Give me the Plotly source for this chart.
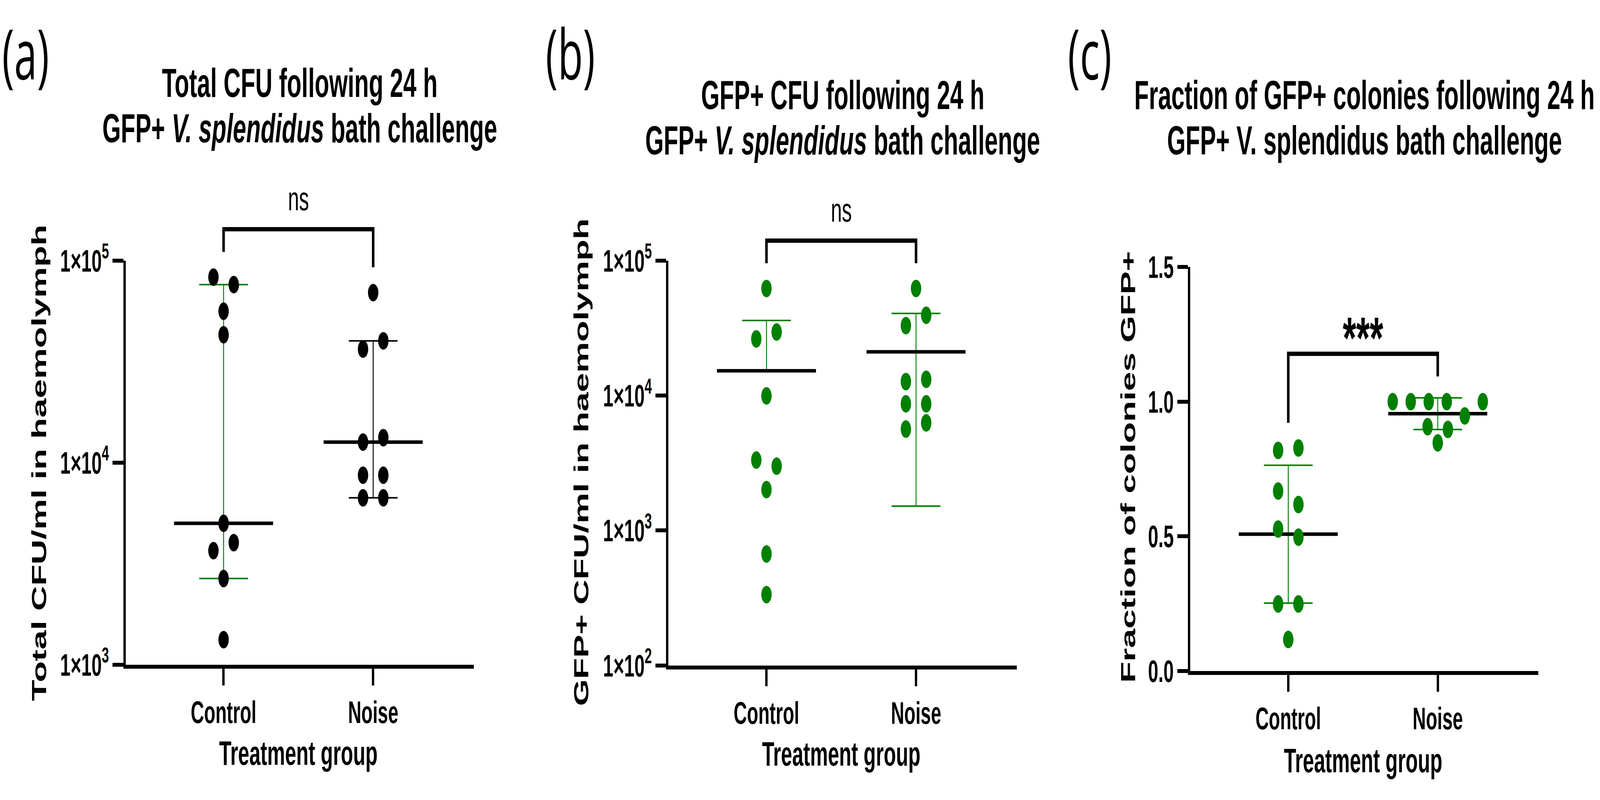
import math
import plotly.graph_objects as go

# ---------------- data ----------------
categories = ["Control", "Noise"]

total_cfu_control = [82900, 76100, 56200, 43000, 5010, 3670, 4020, 2670, 1330]
total_cfu_noise = [69500, 36500, 40100, 12650, 13300, 8670, 8670, 6700, 6700]

gfp_cfu_control = [62200, 26300, 29600, 9950, 3330, 3000, 2010, 670, 335]
gfp_cfu_noise = [62200, 33000, 39400, 12700, 13200, 8690, 8690, 5650, 6280]

frac_gfp_control = [0.819, 0.828, 0.668, 0.618, 0.527, 0.497, 0.249, 0.249, 0.117]
frac_gfp_noise = [1.0, 1.0, 1.0, 1.0, 0.947, 1.0, 0.907, 0.897, 0.847]

log_ticks_a = [1e3, 1e4, 1e5]
log_ticks_b = [1e2, 1e3, 1e4, 1e5]
lin_ticks_c = [0.0, 0.5, 1.0, 1.5]

# ---------------- style / layout constants ----------------
W, H = 6929, 2047
GREEN = "#008000"
FONT = "Liberation Sans, Arial, Helvetica, sans-serif"
LABEL_FONT = "Open Sans, Noto Sans, sans-serif"
XR = (0.345, 2.673)
CAP_HALF = 0.163
CENTER_HALF = 0.331
DOT = 45
SWARM_SPACING = 88
SWARM_MAXW = 390
SWARM_THRESH = 40


def sci(v):
    e = int(round(math.log10(v)))
    return "1×10<sup>%d</sup>" % e


def median_ci(vals):
    s = sorted(vals)
    n = len(s)
    med = (s[(n - 1) // 2] + s[n // 2]) / 2
    k = 1
    for j in range(1, n):
        cdf = sum(math.comb(n, i) for i in range(j)) / 2 ** n
        if cdf <= 0.025:
            k = j
    return med, s[k - 1], s[n - k]


def mean_sd(vals, log_axis):
    n = len(vals)
    m = sum(vals) / n
    sd = math.sqrt(sum((v - m) ** 2 for v in vals) / (n - 1))
    lo = m - sd
    if log_axis and lo <= 0:
        lo = None
    return m, lo, m + sd


panels = [
    dict(sfx="", data=(total_cfu_control, total_cfu_noise), log=True, yrange=(3, 5),
         ticks=log_ticks_a, ticktext=[sci(v) for v in log_ticks_a], stat="median",
         dot_colors=("black", "black"), bar_colors=(GREEN, "black"),
         box=(544, 2052, 642, 1730),
         t1="Total CFU following 24 h",
         t2="GFP+ <i>V. splendidus</i> bath challenge", tbase=(200, 322),
         ytitle="Total CFU/ml in haemolymph", ytx=168, yty=1186, xty=1968,
         sig="ns", label="(a)", label_x=7),
    dict(sfx="2", data=(gfp_cfu_control, gfp_cfu_noise), log=True, yrange=(2, 5),
         ticks=log_ticks_b, ticktext=[sci(v) for v in log_ticks_b], stat="mean",
         dot_colors=(GREEN, GREEN), bar_colors=(GREEN, GREEN),
         box=(2895, 4403, 642, 1732),
         t1="GFP+ CFU following 24 h",
         t2="GFP+ <i>V. splendidus</i> bath challenge", tbase=(232, 354),
         ytitle="GFP+ CFU/ml in haemolymph", ytx=2517, yty=1185, xty=1970,
         sig="ns", label="(b)", label_x=2361),
    dict(sfx="3", data=(frac_gfp_control, frac_gfp_noise), log=False, yrange=(0, 1.5),
         ticks=lin_ticks_c, ticktext=["%.1f" % v for v in lin_ticks_c], stat="mean",
         dot_colors=(GREEN, GREEN), bar_colors=(GREEN, GREEN),
         box=(5155, 6662, 659, 1747),
         t1="Fraction of GFP+ colonies following 24 h",
         t2="GFP+ V. splendidus bath challenge", tbase=(232, 354),
         ytitle="Fraction of colonies GFP+", ytx=4885, yty=1198, xty=1988,
         sig="***", label="(c)", label_x=4622),
]

fig = go.Figure()
shapes = []
annotations = []


def px_y(p, v):
    lo, hi = p["yrange"]
    top, bot = p["box"][2], p["box"][3]
    t = math.log10(v) if p["log"] else v
    return bot - (t - lo) / (hi - lo) * (bot - top)


def swarm(p, vals):
    """Row-based beeswarm: points closer than SWARM_THRESH px vertically share a row."""
    unit = (p["box"][1] - p["box"][0]) / (XR[1] - XR[0])
    order = sorted(range(len(vals)), key=lambda i: (-vals[i], i))
    rows = []
    for i in order:
        y = px_y(p, vals[i])
        if rows and y - rows[-1][0] < SWARM_THRESH:
            rows[-1][1].append(i)
        else:
            rows.append([y, [i]])
    offs = [0.0] * len(vals)
    for _, idx in rows:
        k = len(idx)
        s = SWARM_SPACING if k < 2 else min(SWARM_SPACING, SWARM_MAXW / (k - 1))
        for j, i in enumerate(sorted(idx)):
            offs[i] = (j - (k - 1) / 2) * s / unit
    return offs


for p in panels:
    xa, ya = "x" + p["sfx"], "y" + p["sfx"]
    l, r, top, bot = p["box"]
    for gi, vals in enumerate(p["data"]):
        c = gi + 1
        if p["stat"] == "median":
            center, lo, hi = median_ci(vals)
        else:
            center, lo, hi = mean_sd(vals, p["log"])
        bx = [c, c, None, c - CAP_HALF, c + CAP_HALF]
        by = [lo if lo is not None else center, hi, None, hi, hi]
        if lo is not None:
            bx += [None, c - CAP_HALF, c + CAP_HALF]
            by += [None, lo, lo]
        fig.add_trace(go.Scatter(x=bx, y=by, mode="lines", xaxis=xa, yaxis=ya,
                                 line=dict(color=p["bar_colors"][gi], width=4),
                                 hoverinfo="skip", showlegend=False))
        fig.add_trace(go.Scatter(x=[c - CENTER_HALF, c + CENTER_HALF], y=[center, center],
                                 mode="lines", xaxis=xa, yaxis=ya,
                                 line=dict(color="black", width=9),
                                 hoverinfo="skip", showlegend=False))
        offs = swarm(p, vals)
        fig.add_trace(go.Scatter(x=[c + o for o in offs], y=vals, mode="markers",
                                 xaxis=xa, yaxis=ya, cliponaxis=False,
                                 marker=dict(size=DOT, color=p["dot_colors"][gi],
                                             line=dict(width=0)),
                                 showlegend=False))

    fig.update_layout(**{
        "xaxis" + p["sfx"]: dict(domain=[l / W, r / W], range=list(XR), anchor=ya,
                                 tickvals=[1, 2], ticktext=categories,
                                 ticks="outside", ticklen=43, tickwidth=10, tickcolor="black",
                                 showline=True, linewidth=10, linecolor="black",
                                 showgrid=False, zeroline=False, fixedrange=True,
                                 tickfont=dict(family=FONT, size=80, color="black", weight="bold")),
        "yaxis" + p["sfx"]: dict(domain=[1 - bot / H, 1 - top / H],
                                 type="log" if p["log"] else "linear",
                                 range=list(p["yrange"]), anchor=xa,
                                 tickvals=p["ticks"], ticktext=p["ticktext"],
                                 ticks="outside", ticklen=46, tickwidth=10, tickcolor="black",
                                 showline=True, linewidth=10, linecolor="black",
                                 showgrid=False, zeroline=False, fixedrange=True,
                                 tickfont=dict(family=FONT, size=80, color="black", weight="bold")),
    })

    # significance bracket
    legs = [px_y(p, max(v)) - 68 for v in p["data"]]
    btop = min(legs) - 61
    shapes.append(dict(type="path", xref=xa, yref="paper",
                       path="M 1,%f L 1,%f L 2,%f L 2,%f" % (1 - legs[0] / H, 1 - btop / H,
                                                             1 - btop / H, 1 - legs[1] / H),
                       line=dict(color="black", width=11)))
    if p["sig"] == "ns":
        annotations.append(dict(x=1.5, xref=xa, y=1 - (btop - 83) / H, yref="paper",
                                text="ns", showarrow=False, xanchor="center", yanchor="middle",
                                font=dict(family=FONT, size=86, color="black")))
    else:
        annotations.append(dict(x=1.5, xref=xa, y=1 - (btop - 42) / H, yref="paper",
                                text=p["sig"], showarrow=False, xanchor="center", yanchor="middle",
                                font=dict(family=FONT, size=150, color="black", weight="bold")))

    cx = (l + r) / 2 / W
    for txt, base in zip((p["t1"], p["t2"]), p["tbase"]):
        annotations.append(dict(x=cx, xref="paper", y=1 - (base - 0.35 * 103) / H, yref="paper",
                                text=txt, showarrow=False, xanchor="center", yanchor="middle",
                                font=dict(family=FONT, size=103, color="black", weight="bold")))
    annotations.append(dict(x=p["ytx"] / W, xref="paper", y=1 - p["yty"] / H, yref="paper",
                            text=p["ytitle"], textangle=-90, showarrow=False,
                            xanchor="center", yanchor="middle",
                            font=dict(family=FONT, size=89, color="black", weight="bold")))
    annotations.append(dict(x=1.5, xref=xa, y=1 - p["xty"] / H, yref="paper",
                            text="Treatment group", showarrow=False,
                            xanchor="center", yanchor="middle",
                            font=dict(family=FONT, size=87, color="black", weight="bold")))
    annotations.append(dict(x=p["label_x"] / W, xref="paper", y=1 - 81 / H, yref="paper",
                            text=p["label"], showarrow=False, xanchor="left", yanchor="middle",
                            font=dict(family=LABEL_FONT, size=178, color="black")))

fig.update_layout(width=W, height=H, margin=dict(l=0, r=0, t=0, b=0),
                  paper_bgcolor="white", plot_bgcolor="white",
                  shapes=shapes, annotations=annotations, showlegend=False)

# The browser may report a CSS viewport smaller than 6929x2047; map the fixed-size
# figure onto whatever viewport it really has so the whole figure fills the frame.
FIT_SCRIPT = """
(function(){
  var gd = document.getElementById('{plot_id}');
  function fit(){
    var sx = window.innerWidth / %d, sy = window.innerHeight / %d;
    if (!(sx > 0) || sx > 1) sx = 1;
    if (!(sy > 0) || sy > 1) sy = 1;
    var w = Math.floor(%d * sx), h = Math.floor(%d * sy);
    var html = document.documentElement, body = document.body, par = gd.parentElement;
    html.style.margin = '0'; html.style.padding = '0'; html.style.overflow = 'hidden';
    body.style.margin = '0'; body.style.padding = '0'; body.style.overflow = 'hidden';
    par.style.width = w + 'px'; par.style.height = h + 'px'; par.style.overflow = 'hidden';
    gd.style.transformOrigin = '0 0';
    gd.style.transform = 'scale(' + sx + ',' + sy + ')';
  }
  fit();
  window.addEventListener('resize', fit);
})();
""" % (W, H, W, H)

fig.write_html("out.html", post_script=FIT_SCRIPT,
               config={"displayModeBar": False, "staticPlot": True})
